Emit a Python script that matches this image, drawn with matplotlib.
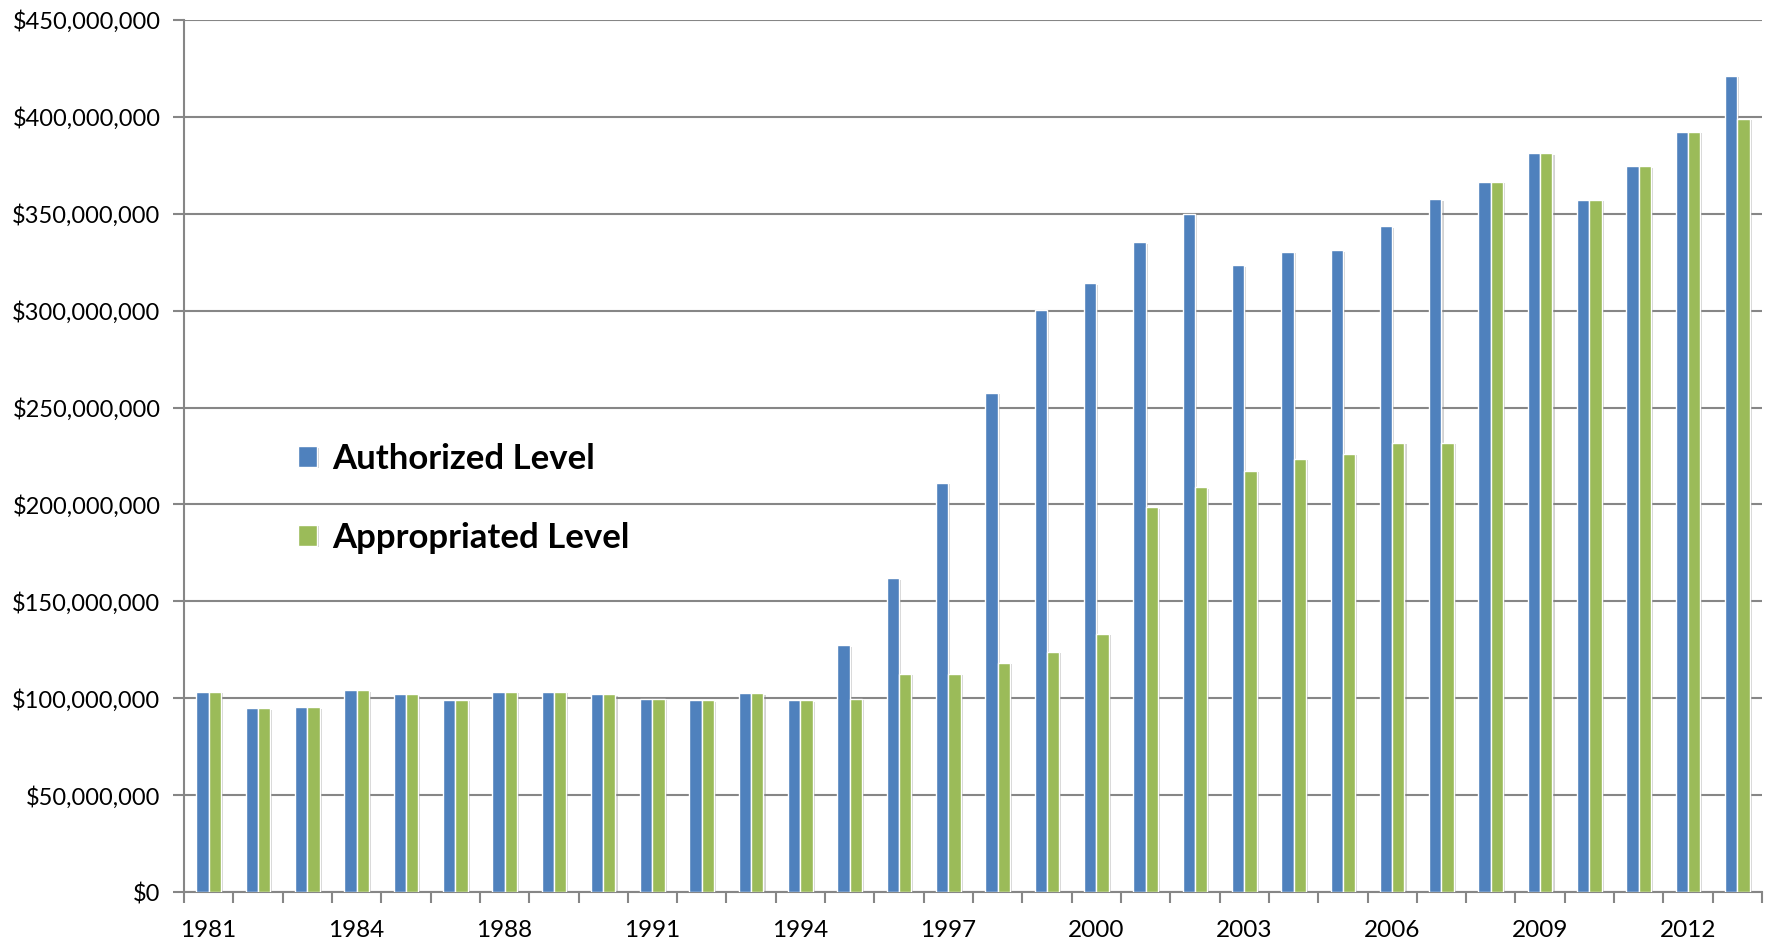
import matplotlib
matplotlib.use("Agg")
import matplotlib.pyplot as plt
import matplotlib.ticker as mticker
import matplotlib.patheffects as pe
import numpy as np

years = [1981, 1982, 1983, 1984, 1985, 1986, 1988, 1989, 1990, 1991, 1992,
         1993, 1994, 1995, 1996, 1997, 1998, 1999, 2000, 2001, 2002, 2003,
         2004, 2005, 2006, 2007, 2008, 2009, 2010, 2011, 2012, 2013]

authorized_m = [103.4, 94.8, 95.4, 104.1, 102.1, 99.3, 103.4, 103.4, 102.1,
                99.7, 99.0, 102.6, 99.0, 127.3, 161.9, 211.3, 257.6, 300.5,
                314.1, 335.3, 350.1, 323.4, 330.5, 331.2, 343.5, 357.5, 366.4,
                381.2, 357.1, 374.5, 392.4, 421.2]

appropriated_m = [103.4, 94.8, 95.4, 104.1, 102.1, 99.3, 103.4, 103.4, 102.1,
                  99.7, 99.0, 102.6, 99.0, 99.8, 112.7, 112.7, 118.2, 124.1,
                  133.3, 198.5, 208.8, 217.4, 223.6, 226.0, 231.7, 231.7, 366.4,
                  381.2, 357.1, 374.5, 392.4, 399.1]

series_names = ["Authorized Level", "Appropriated Level"]
colors = ["#4F81BD", "#9BBB59"]

authorized = np.array(authorized_m) * 1e6
appropriated = np.array(appropriated_m) * 1e6

plt.rcParams['font.family'] = ['Lato', 'DejaVu Sans']

fig = plt.figure(figsize=(17.71, 9.39), dpi=100)
ax = fig.add_axes([184 / 1771, 1 - 892 / 939, (1762 - 184) / 1771, (892 - 20) / 939])

x = np.arange(len(years))
w = 0.25
shadow = [pe.SimplePatchShadow(offset=(1.5, -1.0), shadow_rgbFace='#7f7f7f', alpha=0.35), pe.Normal()]
b1 = ax.bar(x - w / 2, authorized, width=w, color=colors[0], edgecolor='white',
            linewidth=1.0, zorder=3, label=series_names[0])
b2 = ax.bar(x + w / 2, appropriated, width=w, color=colors[1], edgecolor='white',
            linewidth=1.0, zorder=3, label=series_names[1])
for p in list(b1) + list(b2):
    p.set_path_effects(shadow)

ax.set_xlim(-0.5, len(years) - 0.5)
ax.set_ylim(0, 450e6)
ax.yaxis.set_major_locator(mticker.MultipleLocator(50e6))
ax.yaxis.set_major_formatter(mticker.FuncFormatter(lambda v, _: "${:,.0f}".format(v)))

ax.set_xticks(x[::3])
ax.set_xticklabels([str(y) for y in years[::3]])
ax.set_xticks(np.arange(-0.5, len(years), 1.0), minor=True)
ax.tick_params(axis='x', which='major', length=0, pad=20, labelsize=17.5)
ax.tick_params(axis='x', which='minor', length=8, width=1.5, color='#868686', direction='out')
ax.tick_params(axis='y', which='major', length=8, width=1.5, color='#868686', pad=9, labelsize=17)

ax.grid(axis='y', color='#868686', linewidth=1.5, zorder=0)
ax.set_axisbelow(True)
for s in ['top', 'right']:
    ax.spines[s].set_visible(False)
for s in ['left', 'bottom']:
    ax.spines[s].set_color('#868686')
    ax.spines[s].set_linewidth(1.5)

leg = ax.legend(loc='upper left', bbox_to_anchor=(0.072, 0.515), frameon=False,
                prop={'weight': 'bold', 'size': 25}, handlelength=0.55, handleheight=0.55,
                handletextpad=0.45, labelspacing=1.35, borderpad=0, borderaxespad=0)

fig.savefig("out.png", dpi=100)
